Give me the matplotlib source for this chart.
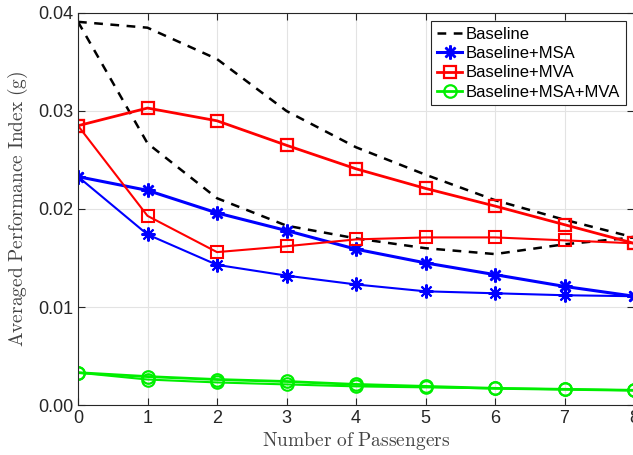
import matplotlib.pyplot as plt
import numpy as np

plt.rcParams['font.family'] = ['Liberation Sans', 'DejaVu Sans']
plt.rcParams['mathtext.fontset'] = 'cm'

passengers = np.arange(0, 9)

# each method has two curves (upper / lower)
baseline_hi = [0.0391, 0.0385, 0.0353, 0.0300, 0.0263, 0.0235, 0.0209, 0.0189, 0.0171]
baseline_lo = [0.0391, 0.0267, 0.0211, 0.0183, 0.0170, 0.0160, 0.0154, 0.0164, 0.0171]
msa_hi = [0.0233, 0.0219, 0.0196, 0.0178, 0.0159, 0.0145, 0.0133, 0.0121, 0.0111]
msa_lo = [0.0233, 0.0174, 0.0143, 0.0132, 0.0123, 0.0116, 0.0114, 0.0112, 0.0111]
mva_hi = [0.0285, 0.0303, 0.0290, 0.0265, 0.0241, 0.0221, 0.0203, 0.0184, 0.0165]
mva_lo = [0.0285, 0.0193, 0.0156, 0.0162, 0.0169, 0.0171, 0.0171, 0.0168, 0.0165]
both_hi = [0.0033, 0.0029, 0.0026, 0.0024, 0.0021, 0.0019, 0.0017, 0.0016, 0.0015]
both_lo = [0.0033, 0.0026, 0.0023, 0.0021, 0.0019, 0.0018, 0.0017, 0.0016, 0.0015]

fig = plt.figure(figsize=(6.33, 4.55), dpi=100)
ax = fig.add_axes([78/633, 50/455, 556/633, 392/455])

star = (8, 2, 0)
ax.plot(passengers, baseline_hi, 'k--', lw=1.8, dashes=(3.5, 3), label='Baseline')
ax.plot(passengers, baseline_lo, 'k--', lw=1.8, dashes=(3.5, 3))
ax.plot(passengers, msa_hi, color='#0000ff', lw=2.2, marker=star, ms=10, mew=1.8, label='Baseline+MSA')
ax.plot(passengers, msa_lo, color='#0000ff', lw=1.5, marker=star, ms=10, mew=1.5)
ax.plot(passengers, mva_hi, color='#ff0000', lw=2.0, marker='s', ms=8, mfc='none', mew=1.6, label='Baseline+MVA')
ax.plot(passengers, mva_lo, color='#ff0000', lw=1.5, marker='s', ms=8, mfc='none', mew=1.5)
ax.plot(passengers, both_hi, color='#00ee00', lw=2.0, marker='o', ms=9, mfc='none', mew=1.6, label='Baseline+MSA+MVA')
ax.plot(passengers, both_lo, color='#00ee00', lw=1.5, marker='o', ms=9, mfc='none', mew=1.5)

ax.set_xlim(0, 8)
ax.set_ylim(0, 0.04)
ax.set_xticks(range(0, 9))
ax.set_yticks([0, 0.01, 0.02, 0.03, 0.04])
ax.set_yticklabels(['0.00', '0.01', '0.02', '0.03', '0.04'])
ax.tick_params(direction='in', top=True, right=True, labelsize=13, colors='#262626', length=5)
ax.grid(True, color='#e3e3e3', lw=0.8)
ax.set_axisbelow(True)
for s in ax.spines.values():
    s.set_color('#262626')

ax.set_xlabel(r'$\mathrm{Number\ of\ Passengers}$', fontsize=14, color='#444444', labelpad=2)
ax.set_ylabel(r'$\mathrm{Averaged\ Performance\ Index\ (g)}$', fontsize=14, color='#444444', labelpad=6)

leg = ax.legend(loc='upper right', fontsize=12, handlelength=1.5, handletextpad=0.2,
                borderpad=0.35, labelspacing=0.25, fancybox=False, framealpha=1,
                edgecolor='#262626', borderaxespad=0.5)
leg.get_frame().set_linewidth(0.8)

plt.savefig('out.png', dpi=100)
